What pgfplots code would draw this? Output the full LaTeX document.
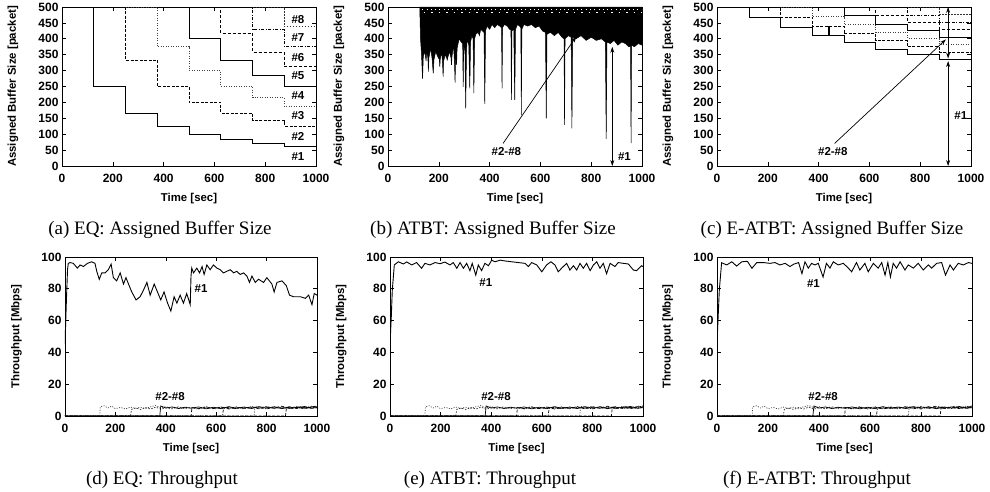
\documentclass[border=0pt]{standalone}
\usepackage{fontspec}
\setmainfont{Liberation Serif}
\setsansfont{Liberation Sans}
\usepackage{pgfplots}
\pgfplotsset{compat=1.18}
\usetikzlibrary{arrows.meta}

\pgfplotsset{
  gp/.style={scale only axis, anchor=south west, xmin=0, xmax=1000,
    xtick={0,200,...,1000}, tick align=inside, xtick pos=both, ytick pos=both,
    major tick length=4pt, axis line style={line width=0.7pt},
    every tick/.style={black, line width=0.6pt},
    tick label style={font=\sffamily\bfseries\fontsize{12}{14}\selectfont},
    label style={font=\sffamily\bfseries\fontsize{11.4}{13}\selectfont},
    /pgf/number format/assume math mode=true,
    /pgf/number format/set thousands separator={},
    xlabel={Time [sec]},
    xlabel style={at={(axis description cs:0.5,-0.2075)}, anchor=center},
    ylabel style={at={(axis description cs:-0.193,0.5)}, anchor=center},
    xticklabel style={yshift=-5pt},
    clip mode=individual},
  buf/.style={gp, ymin=0, ymax=500, ytick={0,50,...,500},
    ylabel={Assigned Buffer Size [packet]}, width=254pt, height=159pt},
  thr/.style={gp, ymin=0, ymax=100, ytick={0,20,...,100},
    ylabel={Throughput [Mbps]}, height=159pt},
  s1/.style={black, line width=0.9pt},
  s2/.style={black, line width=0.8pt, dash pattern=on 3pt off 1.5pt},
  s3/.style={black!75, line width=0.8pt, dash pattern=on 1pt off 1.5pt},
  s4/.style={black, line width=0.8pt},
  s5/.style={black, line width=0.8pt, dash pattern=on 3pt off 2pt},
  s6/.style={black, line width=0.8pt, dash pattern=on 3pt off 1.5pt on 1pt off 1.5pt},
  s7/.style={black!80, line width=0.8pt, dash pattern=on 1.5pt off 1.5pt},
  s8/.style={black, line width=0.8pt, dash pattern=on 2.5pt off 1.5pt},
}
\tikzset{
  lab/.style={font=\sffamily\bfseries\fontsize{11.5}{13}\selectfont},
  subcap/.style={font=\fontsize{19}{21}\selectfont},
  arr/.style={line width=0.7pt, -{Stealth[length=6pt,width=4pt]}},
  darr/.style={line width=0.7pt, {Stealth[length=6pt,width=4pt]}-{Stealth[length=6pt,width=4pt]}},
}

% throughput of flows #2-#8
\newcommand{\lowflows}{%
\addplot[s3, line width=0.7pt] coordinates {(0,0)(138,0)(140,5.8)(155,6.5)(170,5.0)(185,6.2)(200,4.6)(220,5.4)(240,4.4)(260,5.6)(280,4.8)(300,5.5)(320,4.7)(340,5.8)(360,6.6)(380,5.2)(400,5.9)(420,4.9)(440,5.6)(460,4.6)(480,5.5)(500,5.0)(530,4.4)(560,5.6)(590,4.9)(620,5.8)(650,4.7)(680,5.5)(710,4.5)(740,6.0)(770,4.8)(800,5.7)(830,4.6)(860,5.9)(890,4.9)(920,6.1)(950,5.1)(980,6.3)(1000,5.5)};
\addplot[s7, line width=0.7pt] coordinates {(0,0)(260,0)(264,4.2)(280,5.0)(300,4.1)(320,5.3)(340,4.4)(360,5.6)(380,4.3)(400,5.2)(425,4.5)(450,5.8)(475,4.6)(500,5.4)(530,4.8)(560,5.9)(590,4.4)(620,5.3)(650,4.9)(680,5.8)(710,4.6)(740,5.4)(770,5.0)(800,6.0)(830,4.8)(860,5.5)(890,4.7)(920,5.6)(950,4.9)(980,5.7)(1000,5.0)};
\addplot[s4, line width=0.7pt] coordinates {(0,0)(376,0)(380,6.3)(400,5.0)(425,5.7)(450,4.7)(475,5.5)(500,4.9)(530,5.7)(560,4.5)(590,5.5)(620,4.6)(650,5.9)(680,4.8)(710,5.6)(740,4.7)(770,5.9)(800,4.9)(830,5.8)(860,4.6)(890,5.6)(920,5.0)(950,6.0)(980,4.8)(1000,5.6)};
\addplot[s5, line width=0.7pt] coordinates {(0,0)(500,0)(504,5.3)(530,4.6)(560,5.4)(590,4.7)(620,5.6)(650,4.4)(680,5.3)(710,4.9)(740,5.8)(770,4.5)(800,5.5)(830,5.1)(860,6.2)(890,4.8)(920,5.4)(950,4.6)(980,5.9)(1000,5.1)};
\addplot[s6, line width=0.7pt] coordinates {(0,0)(625,0)(629,4.8)(650,5.5)(680,4.6)(710,5.7)(740,4.9)(770,5.6)(800,4.4)(830,5.7)(860,4.9)(890,5.8)(920,4.7)(950,5.5)(980,5.0)(1000,5.8)};
\addplot[s3, line width=0.7pt] coordinates {(0,0)(750,0)(754,6.2)(770,5.1)(800,5.8)(830,4.7)(860,5.5)(890,4.6)(920,5.6)(950,5.2)(980,4.7)(1000,5.4)};
\addplot[s2, line width=0.7pt] coordinates {(0,0)(875,0)(879,5.6)(900,4.8)(930,5.9)(960,4.9)(1000,6.3)};
}

\begin{document}
\begin{tikzpicture}[x=1pt,y=1pt]
\useasboundingbox (0,0) rectangle (990,492);

% (a) EQ buffer
\begin{axis}[buf, at={(62pt,326pt)}]
\addplot[s1, const plot] coordinates {(0,500)(125,250)(250,166.7)(375,125)(500,100)(625,83.3)(750,71.4)(875,62.5)(1000,62.5)};
\addplot[s2, const plot] coordinates {(125,500)(250,333.3)(375,250)(500,200)(625,166.7)(750,142.9)(875,125)(1000,125)};
\addplot[s3, const plot] coordinates {(250,500)(375,375)(500,300)(625,250)(750,214.3)(875,187.5)(1000,187.5)};
\addplot[s4, const plot] coordinates {(375,500)(500,400)(625,333.3)(750,285.7)(875,250)(1000,250)};
\addplot[s5, const plot] coordinates {(500,500)(625,416.7)(750,357.1)(875,312.5)(1000,312.5)};
\addplot[s6, const plot] coordinates {(625,500)(750,428.6)(875,375)(1000,375)};
\addplot[s7, const plot] coordinates {(750,500)(875,437.5)(1000,437.5)};
\addplot[s8, const plot] coordinates {(875,500)(1000,500)};
\node[lab] at (axis cs:929,459) {\#8};
\node[lab] at (axis cs:929,403) {\#7};
\node[lab] at (axis cs:929,341) {\#6};
\node[lab] at (axis cs:929,283) {\#5};
\node[lab] at (axis cs:929,220) {\#4};
\node[lab] at (axis cs:929,160) {\#3};
\node[lab] at (axis cs:929,92) {\#2};
\node[lab] at (axis cs:929,29) {\#1};
\end{axis}
\node[subcap] at (160,262) {(a) EQ: Assigned Buffer Size};

% (b) ATBT buffer
\begin{axis}[buf, at={(388pt,326pt)}]
\addplot[s1] coordinates {(0,500)(125,500)};
\addplot[fill=black, draw=black, line width=0.5pt] coordinates {
(125,500)(128,400)(132,350)(136,274)(139,345)(145,360)(150,330)(152,360)(157,340)(159,297)(161,340)(168,370)(174,335)(178,291)(181,335)
(188,360)(195,345)(202,335)(204,312)(206,340)(212,355)(215,320)(217,281)(219,330)(225,350)(231,340)(233,333)(235,340)(242,360)
(248,340)(250,318)(252,345)(258,380)(262,320)(264,262)(266,330)(268,340)(270,318)(272,370)(280,400)(288,390)(294,385)(296,249)
(298,380)(303,360)(306,181)(309,360)(312,400)(318,380)(322,244)(325,390)(330,410)(335,400)(338,229)(341,400)(346,415)(355,420)
(360,410)(365,430)(378,420)(381,195)(384,425)(390,440)(400,430)(410,445)(420,435)(430,445)(440,440)(447,435)(449,244)(451,435)
(458,445)(470,440)(478,430)(484,430)(486,208)(488,425)(495,430)(499,208)(502,430)(510,445)(518,440)(523,435)(525,160)(527,430)
(535,445)(550,440)(565,445)(580,435)(595,440)(608,425)(620,420)(623,150)(626,415)(640,420)(655,410)(670,420)(685,405)(693,400)
(695,129)(697,400)(710,410)(721,405)(724,118)(727,405)(740,400)(760,410)(780,395)(800,405)(820,395)(840,400)(856,390)(859,85)
(862,390)(875,385)(890,395)(905,380)(920,390)(935,385)(948,375)(955,375)(957,72)(959,380)(970,375)(985,385)(1000,380)(1000,500)};
\addplot[white, line width=0.4pt, dash pattern=on 0.8pt off 3.5pt] coordinates {(135,492)(1000,492)};
\addplot[white, line width=0.4pt, dash pattern=on 1.5pt off 6pt] coordinates {(140,483)(1000,483)};
\draw[arr] (axis cs:453,71) -- (axis cs:741,407);
\draw[darr] (axis cs:883,0) -- (axis cs:883,375);
\node[lab] at (axis cs:466,47) {\#2-\#8};
\node[lab] at (axis cs:931,29) {\#1};
\end{axis}
\node[subcap] at (493,262) {(b) ATBT: Assigned Buffer Size};

% (c) E-ATBT buffer
\begin{axis}[buf, at={(717pt,326pt)}]
\addplot[s1, const plot] coordinates {(0,500)(128,466)(250,437)(375,410)(438,440)(441,410)(500,388)(625,367)(750,350)(875,335)(1000,335)};
\addplot[s2, const plot] coordinates {(128,500)(250,468.5)(375,440)(500,416)(625,393.6)(750,375)(875,358.6)(1000,358.6)};
\addplot[s3, const plot] coordinates {(250,500)(375,470)(500,444)(625,420.2)(750,400)(875,382.1)(1000,382.1)};
\addplot[s4, const plot] coordinates {(375,500)(500,472)(625,446.8)(750,425)(875,405.7)(1000,405.7)};
\addplot[s5, const plot] coordinates {(500,500)(625,473.4)(750,450)(875,429.3)(1000,429.3)};
\addplot[s6, const plot] coordinates {(625,500)(750,475)(875,452.9)(1000,452.9)};
\addplot[s7, const plot] coordinates {(750,500)(875,476.4)(1000,476.4)};
\addplot[s8, const plot] coordinates {(875,500)(1000,500)};
\draw[arr] (axis cs:463,71) -- (axis cs:901,398);
\draw[darr] (axis cs:910,0) -- (axis cs:910,330);
\draw[darr] (axis cs:910,338) -- (axis cs:910,500);
\node[lab] at (axis cs:456,45) {\#2-\#8};
\node[lab] at (axis cs:960,160) {\#1};
\end{axis}
\node[subcap] at (832,262) {(c) E-ATBT: Assigned Buffer Size};

% (d) EQ throughput
\begin{axis}[thr, at={(65pt,76pt)}, width=252pt]
\lowflows
\addplot[s1] coordinates {(0,45)(5,70)(10,92)(13,96)(20,96.5)(33,96)(49,93)(60,95)(73,94)(89,96)(106,97)(119,96)(126,91)(136,86)(146,90)(159,90)(172,92)(183,95.5)(192,87)(205,85)(219,90)(232,83)(242,87)(252,83)(265,78)(282,73)(298,75)(311,79)(325,84)(338,76)(354,83)(367,78)(380,73)(393,78)(407,71)(420,66)(433,75)(444,71)(457,76)(470,71)(483,77)(497,70)(500,88)(503,93)(510,90)(523,93)(534,90)(544,94)(552,89)(563,95)(576,92)(589,95)(603,93)(616,92)(629,90)(642,91)(656,92)(669,90)(682,91)(695,89)(709,90)(722,88)(732,84)(742,88)(755,84)(768,86)(788,84)(801,87)(821,83)(830,78)(841,84)(861,85)(878,82)(891,76)(907,75)(934,75)(954,74)(967,76)(980,70)(989,77)(1000,76)};
\node[lab] at (axis cs:540,80) {\#1};
\node[lab] at (axis cs:417,12) {\#2-\#8};
\end{axis}
\node[subcap] at (162,12) {(d) EQ: Throughput};

% (e) ATBT throughput
\begin{axis}[thr, at={(390pt,76pt)}, width=253pt]
\lowflows
\addplot[s1] coordinates {(0,45)(5,62)(9,79)(17,95)(33,97)(53,95.6)(66,96.9)(86,95)(105,96.5)(125,92.9)(138,96)(158,95)(178,96.5)(198,95.8)(217,96.8)(237,95)(250,96.5)(264,92.9)(277,96.5)(290,92.9)(303,96)(316,91.4)(325,96)(339,88.6)(349,95)(362,91.4)(375,96)(389,94.5)(402,98)(415,97)(435,98)(455,97.5)(481,97)(507,96.5)(534,96)(547,94)(560,96.5)(580,95)(600,90.7)(619,95)(636,97)(652,95)(665,90.7)(678,92.9)(698,96)(711,91.8)(725,94.5)(738,91.8)(751,96)(764,92.9)(777,96)(791,91.4)(804,95)(817,97)(830,92.9)(843,96)(856,89.5)(870,96)(889,94)(902,96.5)(922,96)(942,95.6)(962,91.8)(975,91.4)(994,94.5)(1000,94)};
\node[lab] at (axis cs:379,84) {\#1};
\node[lab] at (axis cs:419,12) {\#2-\#8};
\end{axis}
\node[subcap] at (490,12) {(e) ATBT: Throughput};

% (f) E-ATBT throughput
\begin{axis}[thr, at={(717pt,76pt)}, width=255pt]
\lowflows
\addplot[s1] coordinates {(0,46)(9,79)(18,96.4)(38,95)(58,97)(77,94.3)(97,97)(119,97.3)(137,92.9)(156,96.5)(182,96.5)(208,96)(227,96.5)(247,95)(267,96)(286,94)(301,95.5)(320,96.5)(333,89.5)(345,97)(358,93)(371,96)(384,95)(397,96)(416,87.4)(429,96)(443,93)(456,97)(475,95)(495,96)(511,93.7)(528,90.7)(547,96.5)(560,91.8)(580,96)(593,90.7)(613,96)(632,93)(646,96.5)(659,88.6)(670,96.5)(680,87.4)(691,96)(704,93)(718,97)(737,91.8)(750,95)(770,93)(789,96)(809,91.8)(829,95)(842,93)(861,96)(881,96.5)(896,88.6)(914,95)(927,91.8)(946,96)(966,95)(986,96.5)(1000,96)};
\node[lab] at (axis cs:378,83) {\#1};
\node[lab] at (axis cs:416,12) {\#2-\#8};
\end{axis}
\node[subcap] at (817,12) {(f) E-ATBT: Throughput};

\end{tikzpicture}
\end{document}
